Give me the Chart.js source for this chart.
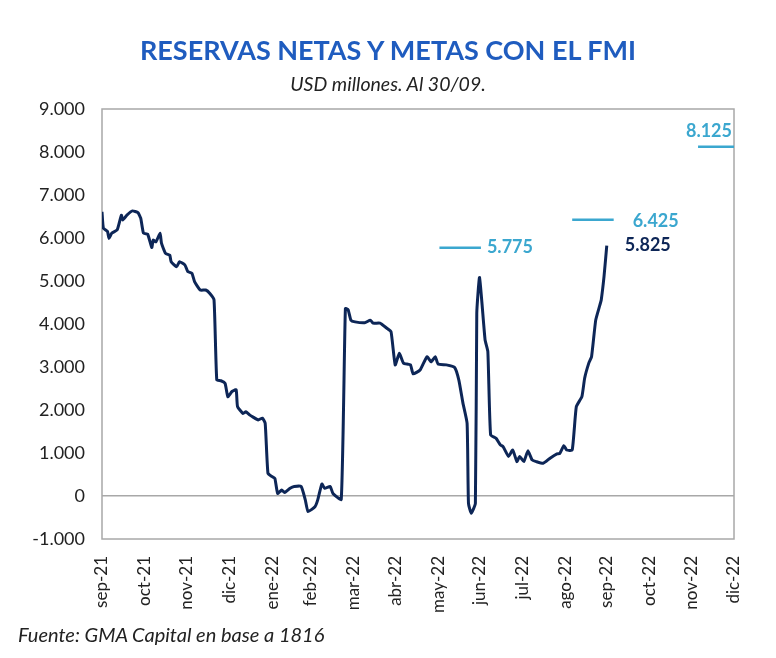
<!DOCTYPE html>
<html lang="es">
<head>
<meta charset="utf-8">
<title>Reservas netas y metas con el FMI</title>
<script src="https://cdn.jsdelivr.net/npm/chart.js@4.4.1/dist/chart.umd.min.js"></script>
<style>
    body { margin: 0; background: #fff; }
    .wrap { position: relative; width: 776px; height: 658px; font-family: Lato, 'Open Sans', sans-serif; }
    .wrap canvas { position: absolute; left: 0; top: 0; }
    .title { position: absolute; left: 0; width: 776px; top: 35px; line-height: 30px; text-align: center;
             font-size: 27px; font-weight: 700; color: #1f5cbf; }
    .subtitle { position: absolute; left: 0; width: 776px; top: 73px; line-height: 22px; text-align: center;
                font-size: 19.5px; font-style: italic; color: #222; }
    .source { position: absolute; left: 18px; top: 622px; line-height: 24px;
              font-size: 20px; font-style: italic; color: #222; }
</style>
</head>
<body>
<div class="wrap">
    <canvas id="reservasChart" width="776" height="658"></canvas>
    <div class="title">RESERVAS NETAS Y METAS CON EL FMI</div>
    <div class="subtitle">USD millones. Al 30/09.</div>
    <div class="source">Fuente: GMA Capital en base a 1816</div>
</div>
<script>
// dias desde el 30/09/2021
const reservasDias = [
    0, 1, 4, 5, 7, 11, 14, 15, 18, 22, 26, 28, 30, 33, 36, 37, 39, 42, 43, 46,
    49, 50, 54, 56, 60, 62, 65, 67, 71, 75, 78, 81, 83, 86, 89, 91, 94, 97, 98, 102,
    104, 107, 109, 113, 116, 118, 120, 123, 125, 127, 130, 132, 136, 139, 144, 147, 149, 154, 156, 159,
    161, 165, 167, 173, 176, 178, 180, 183, 190, 194, 196, 201, 206, 209, 212, 215, 218, 223, 225, 230,
    235, 238, 241, 243, 249, 255, 258, 261, 264, 265, 267, 270, 271, 273, 277, 279, 281, 285, 288, 290,
    294, 297, 300, 302, 305, 308, 311, 314, 319, 324, 329, 331, 334, 336, 340, 343, 347, 349, 352, 354,
    357, 360, 361, 363, 365
];
const reservasNetas = [
    6610, 6230, 6150, 5990, 6110, 6190, 6530, 6420, 6530, 6630, 6590, 6460, 6110, 6090, 5780, 5950, 5910, 6110, 5880, 5640,
    5600, 5450, 5330, 5450, 5370, 5220, 5180, 4980, 4790, 4790, 4710, 4560, 2700, 2680, 2620, 2310, 2430, 2470, 2080, 1920,
    1960, 1880, 1840, 1770, 1810, 1690, 530, 450, 410, 60, 140, 80, 180, 220, 220, -90, -360, -250, -90, 280,
    180, 220, 60, -80, 4360, 4330, 4090, 4050, 4030, 4090, 4020, 4020, 3900, 3820, 3050, 3320, 3090, 3050, 2840, 2930,
    3240, 3120, 3240, 3070, 3050, 2990, 2700, 2160, 1690, -170, -400, -170, 4250, 5080, 3630, 3360, 1420, 1340, 1190, 1150,
    920, 1070, 800, 920, 800, 1050, 840, 800, 760, 880, 980, 990, 1170, 1070, 1070, 2080, 2310, 2740, 3090, 3240,
    4090, 4440, 4560, 5100, 5825
];

// metas con el FMI (tramos horizontales)
const metaInicio = [244, 340, 431];
const metaFin = [274, 370, 457];
const metaValor = [5775, 6425, 8125];

// eje x: cierre de cada mes
const mesesDias = [0, 31, 61, 92, 123, 151, 182, 212, 243, 273, 304, 335, 365, 396, 426, 457];
const mesesLabels = ['sep-21', 'oct-21', 'nov-21', 'dic-21', 'ene-22', 'feb-22', 'mar-22', 'abr-22',
    'may-22', 'jun-22', 'jul-22', 'ago-22', 'sep-22', 'oct-22', 'nov-22', 'dic-22'];

const NAVY = '#0d2657';
const CYAN = '#3ba7cf';
const GRIS = '#a8a8a8';

function formatMiles(v) {
    const s = Math.abs(Math.round(v)).toString().replace(/\B(?=(\d{3})+(?!\d))/g, '.');
    return (v < 0 ? '-' : '') + s;
}

const datasets = [{
    label: 'Reservas netas',
    data: reservasDias.map((d, i) => ({ x: d, y: reservasNetas[i] })),
    borderColor: NAVY,
    borderWidth: 3,
    pointRadius: 0,
    tension: 0.15,
    order: 1
}];
metaValor.forEach((v, i) => {
    datasets.push({
        label: 'Meta ' + i,
        data: [{ x: metaInicio[i], y: v }, { x: metaFin[i], y: v }],
        borderColor: CYAN,
        borderWidth: 2.5,
        pointRadius: 0,
        order: 2
    });
});

// desplazamientos de las etiquetas (px) respecto del extremo derecho de cada tramo
const metaEtiquetas = [
    { dx: 6, dy: 0, align: 'left' },
    { dx: 19, dy: 1, align: 'left' },
    { dx: 0, dy: -15, align: 'right', right: true }
];

const marcoPlugin = {
    id: 'marco',
    beforeDatasetsDraw(chart) {
        const { ctx, chartArea: a } = chart;
        ctx.save();
        ctx.strokeStyle = GRIS;
        ctx.lineWidth = 1.5;
        ctx.strokeRect(a.left, a.top, a.right - a.left, a.bottom - a.top);
        ctx.restore();
    }
};

const etiquetasPlugin = {
    id: 'etiquetas',
    afterDatasetsDraw(chart) {
        const { ctx, scales: { x, y }, chartArea } = chart;
        ctx.save();
        ctx.font = 'bold 18px Lato, sans-serif';
        ctx.textBaseline = 'middle';
        metaValor.forEach((v, i) => {
            const st = metaEtiquetas[i];
            let px = x.getPixelForValue(metaFin[i]) + st.dx;
            if (st.right) px = chartArea.right - 2;
            ctx.fillStyle = CYAN;
            ctx.textAlign = st.align;
            ctx.fillText(formatMiles(v), px, y.getPixelForValue(v) + st.dy);
        });
        const last = reservasNetas.length - 1;
        ctx.fillStyle = NAVY;
        ctx.textAlign = 'left';
        ctx.fillText(formatMiles(reservasNetas[last]),
            x.getPixelForValue(reservasDias[last]) + 18, y.getPixelForValue(reservasNetas[last]));
        ctx.restore();
    }
};

new Chart(document.getElementById('reservasChart'), {
    type: 'line',
    data: { datasets },
    options: {
        responsive: false,
        animation: false,
        layout: { padding: { top: 109, right: 42, bottom: 0, left: 0 } },
        plugins: { legend: { display: false }, tooltip: { enabled: false } },
        scales: {
            x: {
                type: 'linear',
                min: 0,
                max: 457,
                afterBuildTicks: (axis) => { axis.ticks = mesesDias.map(v => ({ value: v })); },
                afterFit: (scale) => { scale.height = 119; },
                grid: { display: false },
                border: { display: false },
                ticks: {
                    autoSkip: false,
                    minRotation: 90,
                    maxRotation: 90,
                    padding: 9,
                    color: '#222',
                    font: { family: 'Lato', size: 17 },
                    callback: (v) => mesesLabels[mesesDias.indexOf(v)]
                }
            },
            y: {
                min: -1000,
                max: 9000,
                afterFit: (scale) => { scale.width = 102; },
                grid: {
                    drawTicks: false,
                    lineWidth: 1.5,
                    color: (c) => c.tick && c.tick.value === 0 ? GRIS : 'transparent'
                },
                border: { display: false },
                ticks: {
                    stepSize: 1000,
                    padding: 17,
                    color: '#222',
                    font: { family: 'Lato', size: 18 },
                    callback: (v) => formatMiles(v)
                }
            }
        }
    },
    plugins: [marcoPlugin, etiquetasPlugin]
});
</script>
</body>
</html>
